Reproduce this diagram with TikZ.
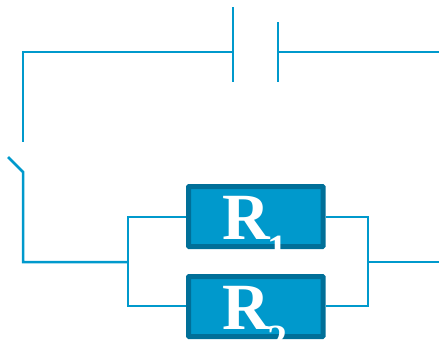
\documentclass[tikz,border=0pt]{standalone}
\usepackage{fontspec}
\setmainfont{Liberation Serif}
\definecolor{wire}{HTML}{0099CC}
\definecolor{edge}{HTML}{006F98}
\tikzset{
  wireline/.style={draw=wire,line width=2.5bp,line cap=butt,line join=miter},
  resbox/.style={draw=edge,fill=wire,line width=5bp,rounded corners=0.6bp,minimum width=134.5bp,minimum height=60bp,inner sep=0pt,outer sep=2.5bp,anchor=north west},
  letter/.style={text=white,font=\bfseries\fontsize{66bp}{66bp}\selectfont,inner sep=0pt,anchor=base west},
  subscr/.style={text=white,font=\bfseries\fontsize{40bp}{40bp}\selectfont,inner sep=0pt,anchor=base west}
}
\begin{document}
\begin{tikzpicture}[x=1bp,y=-1bp]
\useasboundingbox (0,0) rectangle (439,339);
% capacitor plates
\coordinate (p1t) at (233,7);
\coordinate (p1m) at (233,52);
\coordinate (p1b) at (233,82);
\coordinate (p2t) at (278,22);
\coordinate (p2m) at (278,52);
\coordinate (p2b) at (278,82);
\coordinate (endtop) at (439,52);
\coordinate (corner) at (23,52);
\coordinate (swtop) at (23,142);
\coordinate (swfree) at (8,157);
\coordinate (swpivot) at (23,172);
\coordinate (cornerb) at (23,262);
\coordinate (jl) at (128,262);
\coordinate (jlt) at (128,217);
\coordinate (jlb) at (128,306);
\coordinate (jr) at (368,262);
\coordinate (jrt) at (368,217);
\coordinate (jrb) at (368,306);
\coordinate (endbot) at (439,262);
% resistors
\node[resbox] (r1) at (186,184) {};
\node[resbox] (r2) at (186,274) {};
\begin{scope}
\clip (186,184) rectangle (325.5,249);
\node[letter] (r1l) at (222,239) {R};
\node[subscr] (r1s) at (267,262) {1};
\end{scope}
\begin{scope}
\clip (186,274) rectangle (325.5,339);
\node[letter] (r2l) at (222,329) {R};
\node[subscr] (r2s) at (267,352) {2};
\end{scope}
% wires
\draw[wireline] (p1t) -- (p1b);
\draw[wireline] (p2t) -- (p2b);
\draw[wireline] (p1m) -- (corner) -- (swtop);
\draw[wireline] (p2m) -- (endtop);
\draw[wireline] (swfree) -- (swpivot) -- (cornerb) -- (jl);
\draw[wireline] (r1.west |- jlt) -- (jlt) -- (jlb) -- (r2.west |- jlb);
\draw[wireline] (r1.east |- jrt) -- (jrt) -- (jrb) -- (r2.east |- jrb);
\draw[wireline] (jr) -- (endbot);
\end{tikzpicture}
\end{document}
